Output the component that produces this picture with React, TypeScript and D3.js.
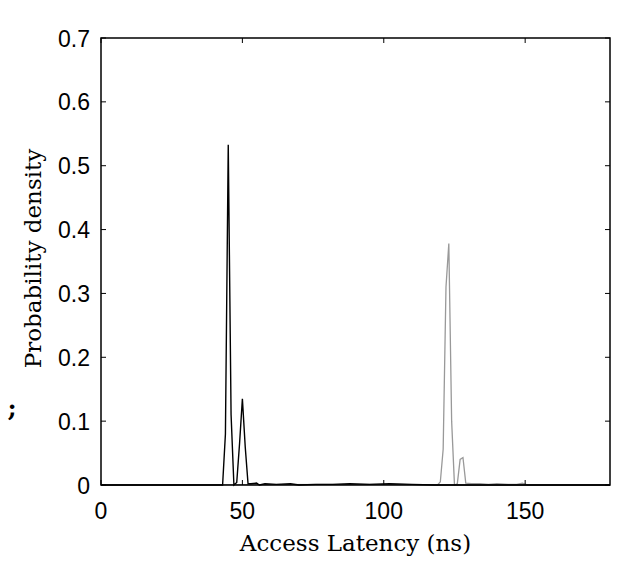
import { FC } from "react";
import * as d3 from "d3";

const WIDTH = 636;
const HEIGHT = 583;
const MARGIN = { top: 38, right: 26, bottom: 98, left: 101 };

// black series: local latency
const localX = [0, 42, 43, 44, 45, 46, 47, 48, 49, 50, 51, 52, 53, 55, 56, 58, 62, 67, 70, 76, 82, 88, 95, 102, 110, 118, 180];
const localY = [0, 0, 0, 0.08, 0.533, 0.11, 0, 0.004, 0.065, 0.135, 0.06, 0.002, 0.002, 0.003, 0, 0.002, 0.001, 0.002, 0, 0.001, 0.001, 0.002, 0.001, 0.002, 0.001, 0, 0];

// gray series: remote latency
const remoteX = [0, 100, 118, 119, 120, 121, 122, 123, 124, 125, 126, 127, 128, 129, 131, 134, 137, 140, 144, 147, 149, 151, 180];
const remoteY = [0, 0.001, 0, 0, 0.005, 0.056, 0.31, 0.378, 0.1, 0, 0.002, 0.04, 0.043, 0.003, 0.002, 0.002, 0.001, 0.002, 0.001, 0.001, 0.003, 0, 0];

const xTicks = [0, 50, 100, 150];
const yTicks = [0, 0.1, 0.2, 0.3, 0.4, 0.5, 0.6, 0.7];

const TICK = 5;

const App: FC = () => {
  const boundsWidth = WIDTH - MARGIN.left - MARGIN.right;
  const boundsHeight = HEIGHT - MARGIN.top - MARGIN.bottom;

  const xScale = d3.scaleLinear().domain([0, 180]).range([0, boundsWidth]);
  const yScale = d3.scaleLinear().domain([0, 0.7]).range([boundsHeight, 0]);

  const line = d3
    .line<[number, number]>()
    .x((d) => xScale(d[0]))
    .y((d) => yScale(d[1]));

  const localPath = line(localX.map((x, i) => [x, localY[i]]) as [number, number][]) || "";
  const remotePath = line(remoteX.map((x, i) => [x, remoteY[i]]) as [number, number][]) || "";

  const tickFont = "'Liberation Sans', Arial, sans-serif";
  const labelFont = "'DejaVu Serif', serif";

  return (
    <svg width={WIDTH} height={HEIGHT} style={{ position: "absolute", left: 0, top: 0, background: "#fff" }}>
      <rect width={WIDTH} height={HEIGHT} fill="#ffffff" />
      <g transform={`translate(${MARGIN.left},${MARGIN.top})`}>
        <path d={remotePath} fill="none" stroke="#999999" strokeWidth={1.3} />
        <path d={localPath} fill="none" stroke="#000000" strokeWidth={1.4} />

        {/* ticks on all four sides, pointing in */}
        {xTicks.map((t) => (
          <g key={`x${t}`}>
            <line x1={xScale(t)} x2={xScale(t)} y1={boundsHeight} y2={boundsHeight - TICK} stroke="#000" strokeWidth={1} />
            <line x1={xScale(t)} x2={xScale(t)} y1={0} y2={TICK} stroke="#000" strokeWidth={1} />
            <text
              x={xScale(t)}
              y={boundsHeight + 34}
              textAnchor="middle"
              fontFamily={tickFont}
              fontSize={23}
              fill="#000"
            >
              {t}
            </text>
          </g>
        ))}
        {yTicks.map((t) => (
          <g key={`y${t}`}>
            <line x1={0} x2={TICK} y1={yScale(t)} y2={yScale(t)} stroke="#000" strokeWidth={1} />
            <line x1={boundsWidth} x2={boundsWidth - TICK} y1={yScale(t)} y2={yScale(t)} stroke="#000" strokeWidth={1} />
            <text
              x={-11}
              y={yScale(t) + 8.5}
              textAnchor="end"
              fontFamily={tickFont}
              fontSize={23}
              fill="#000"
            >
              {t === 0 ? "0" : t.toFixed(1)}
            </text>
          </g>
        ))}

        <rect x={0} y={0} width={boundsWidth} height={boundsHeight} fill="none" stroke="#000" strokeWidth={1.5} />

        <text
          x={boundsWidth / 2}
          y={boundsHeight + 66}
          textAnchor="middle"
          fontFamily={labelFont}
          fontSize={23}
          fill="#000"
        >
          Access Latency (ns)
        </text>
        <text
          transform={`translate(${-60},${boundsHeight / 2 - 3}) rotate(-90)`}
          textAnchor="middle"
          fontFamily={labelFont}
          fontSize={23}
          fill="#000"
        >
          Probability density
        </text>
      </g>
      <text x={12} y={416} textAnchor="middle" fontFamily={labelFont} fontSize={25} fontWeight="bold" fill="#000">
        ;
      </text>
    </svg>
  );
};

export default App;
